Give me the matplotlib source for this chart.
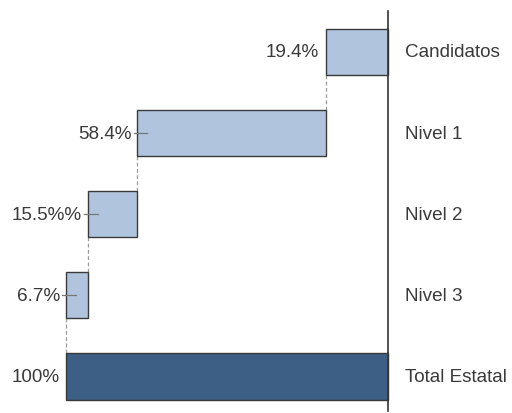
import matplotlib.pyplot as plt

# Datos del grafico
categorias = ['Candidatos', 'Nivel 1', 'Nivel 2', 'Nivel 3', 'Total Estatal']
valores = [19.4, 58.4, 15.5, 6.7, 100]
etiquetas = ['19.4%', '58.4%', '15.5%%', '6.7%', '100%']
conMarca = [False, True, True, True, False]

colorClaro = '#b0c4de'
colorOscuro = '#3d5f85'
colorBorde = '#3a3a3a'
colorTexto = '#3a3a3a'

plt.rcParams['font.family'] = ['Liberation Sans', 'DejaVu Sans']

fig = plt.figure(figsize=(5.12, 4.14), dpi=100)
ax = fig.add_axes([0, 0, 1, 1])

# Calculando donde empieza cada barra (cascada)
inicios = []
acumulado = 0
for i in range(len(valores)):
    if i == len(valores) - 1:
        inicios.append(0)
    else:
        inicios.append(acumulado)
        acumulado += valores[i]

alto = 0.57
ys = list(range(len(categorias)))

colores = [colorClaro] * (len(valores) - 1) + [colorOscuro]
ax.barh(ys, valores, left=inicios, height=alto, color=colores,
        edgecolor=colorBorde, linewidth=1.0, zorder=2)

# Lineas punteadas entre barras
for i in range(len(valores) - 1):
    x = inicios[i] + valores[i]
    ax.plot([x, x], [ys[i] + alto / 2, ys[i + 1] - alto / 2],
            color='#999999', lw=0.9, ls=(0, (3, 2)), zorder=1)

# Etiquetas de valores y categorias
for i in range(len(valores)):
    borde = inicios[i] + valores[i]
    ax.annotate(etiquetas[i], xy=(borde, ys[i]), xytext=(-4.5, 0),
                textcoords='offset points', ha='right', va='center',
                fontsize=13.6, color=colorTexto)
    if conMarca[i]:
        ax.plot([borde + 1.2, borde - 3.1], [ys[i], ys[i]],
                color='#777777', lw=0.9, zorder=3)
    ax.text(-5.3, ys[i], categorias[i], ha='left', va='center',
            fontsize=13.6, color=colorTexto)

# Linea vertical del eje
ax.plot([0, 0], [-0.506, 4.43], color='#333333', lw=1.2, zorder=3)

ax.set_xlim(120.5, -38.5)
ax.set_ylim(4.45, -0.653)
ax.axis('off')

fig.savefig('out.png', dpi=100)
